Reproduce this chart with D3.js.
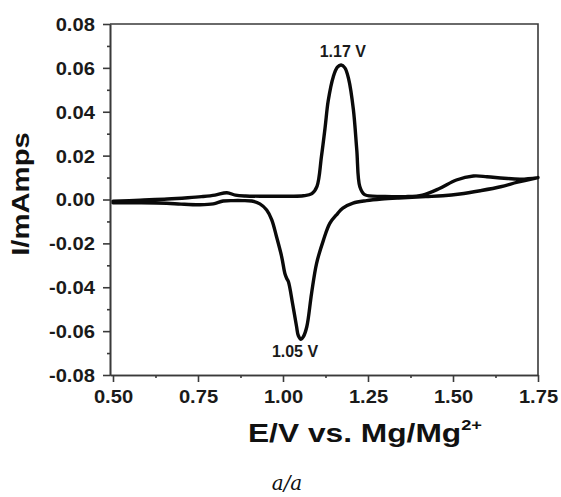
<!DOCTYPE html>
<html>
<head>
<meta charset="utf-8">
<script src="https://cdn.jsdelivr.net/npm/d3@7"></script>
<style>
  body { margin: 0; background: #fff; }
  text { font-family: "Liberation Sans", Arial, sans-serif; }
</style>
</head>
<body>
<div id="chart"></div>
<script>
// forward (anodic) sweep, 0.50 -> 1.75 V
const fwdV = [0.50, 0.58, 0.66, 0.72, 0.76, 0.80, 0.835, 0.86, 0.89, 0.95, 1.02, 1.06, 1.085, 1.10, 1.113, 1.124, 1.133, 1.148, 1.16, 1.171, 1.182, 1.193, 1.207, 1.217, 1.226, 1.24, 1.30, 1.36, 1.41, 1.46, 1.51, 1.56, 1.60, 1.65, 1.70, 1.75];
const fwdI = [-0.0008, -0.0003, 0.0002, 0.0008, 0.0013, 0.0020, 0.0031, 0.0020, 0.0016, 0.0015, 0.0015, 0.0017, 0.0027, 0.0060, 0.0195, 0.0330, 0.0450, 0.0560, 0.0603, 0.0613, 0.0600, 0.0550, 0.0410, 0.0226, 0.0058, 0.0022, 0.0014, 0.0013, 0.0020, 0.0050, 0.0089, 0.0107, 0.0104, 0.0097, 0.0093, 0.0100];

// reverse (cathodic) sweep, 1.75 -> 0.50 V
const revV = [1.75, 1.69, 1.64, 1.58, 1.52, 1.47, 1.42, 1.34, 1.29, 1.246, 1.206, 1.176, 1.16, 1.138, 1.119, 1.099, 1.084, 1.07, 1.06, 1.053, 1.045, 1.04, 1.028, 1.016, 1.011, 1.006, 0.996, 0.981, 0.967, 0.952, 0.932, 0.908, 0.88, 0.854, 0.824, 0.795, 0.756, 0.70, 0.658, 0.58, 0.50];
const revI = [0.0100, 0.0079, 0.0058, 0.0040, 0.0025, 0.0017, 0.0013, 0.0007, 0.0002, -0.0005, -0.0016, -0.0039, -0.0065, -0.0108, -0.0185, -0.0290, -0.0428, -0.0580, -0.0625, -0.0637, -0.0620, -0.0580, -0.0473, -0.0375, -0.0360, -0.0340, -0.0260, -0.0170, -0.0093, -0.0048, -0.0020, -0.0007, -0.0005, -0.0005, -0.0007, -0.0020, -0.0024, -0.0021, -0.0017, -0.0015, -0.0015];

const xTicks = [0.50, 0.75, 1.00, 1.25, 1.50, 1.75];
const yTicks = [0.08, 0.06, 0.04, 0.02, 0.00, -0.02, -0.04, -0.06, -0.08];

const peakV = [1.17, 1.053];
const peakI = [0.0613, -0.0637];
const peakLabels = ["1.17 V", "1.05 V"];

const W = 561, H = 497;
const svg = d3.select("#chart").append("svg")
    .attr("width", W)
    .attr("height", H);

const x = d3.scaleLinear().domain([0.4912, 1.75]).range([110, 538]);
const y = d3.scaleLinear().domain([-0.08, 0.08]).range([375, 24]);

const axisColor = "#3a3a3a";

// minor ticks halfway between majors
const xMinor = d3.pairs(xTicks).map(p => (p[0] + p[1]) / 2);
const yMinor = d3.pairs(yTicks).map(p => (p[0] + p[1]) / 2);

function styleAxis(g) {
  g.selectAll("path, line").attr("stroke", axisColor).attr("stroke-width", 1.6);
}

// x axis
svg.append("g")
    .attr("transform", `translate(0,${y.range()[0]})`)
    .call(d3.axisBottom(x).tickValues(xMinor).tickSize(3).tickSizeOuter(0).tickFormat(""))
    .call(styleAxis);
const gx = svg.append("g")
    .attr("transform", `translate(0,${y.range()[0]})`)
    .call(d3.axisBottom(x).tickValues(xTicks).tickSize(7).tickSizeOuter(0).tickFormat(d => d.toFixed(2)))
    .call(styleAxis);
gx.selectAll("text")
    .attr("y", 28).attr("dy", null)
    .attr("transform", "scale(1.12,1)")
    .style("font-size", "18px").style("font-weight", "bold").attr("fill", "#1a1a1a");

// y axis
svg.append("g")
    .attr("transform", `translate(${x.range()[0]},0)`)
    .call(d3.axisLeft(y).tickValues(yMinor).tickSize(3).tickSizeOuter(0).tickFormat(""))
    .call(styleAxis);
const gy = svg.append("g")
    .attr("transform", `translate(${x.range()[0]},0)`)
    .call(d3.axisLeft(y).tickValues(yTicks).tickSize(7).tickSizeOuter(0).tickFormat(d => d.toFixed(2)))
    .call(styleAxis);
gy.selectAll("text")
    .attr("x", -13.5).attr("dy", "0.36em")
    .attr("transform", "scale(1.12,1)")
    .style("font-size", "18px").style("font-weight", "bold").attr("fill", "#1a1a1a");

// top and right frame
svg.append("path")
    .attr("d", `M${x.range()[0]},${y.range()[1]}H${x.range()[1]}V${y.range()[0]}`)
    .attr("fill", "none")
    .attr("stroke", axisColor)
    .attr("stroke-width", 1.6);

// CV loop
const pts = fwdV.map((v, i) => [v, fwdI[i]])
    .concat(revV.map((v, i) => [v, revI[i]]));

const line = d3.line()
    .x(d => x(d[0]))
    .y(d => y(d[1]))
    .curve(d3.curveCatmullRom.alpha(0.5));

svg.append("path")
    .datum(pts)
    .attr("d", line)
    .attr("fill", "none")
    .attr("stroke", "#0a0a0a")
    .attr("stroke-width", 3.4)
    .attr("stroke-linejoin", "round")
    .attr("stroke-linecap", "round");

// peak annotations
svg.selectAll(".peak")
  .data(peakLabels)
  .join("text")
    .attr("class", "peak")
    .attr("x", (d, i) => x(peakV[i]) + (i == 0 ? 2 : -6))
    .attr("y", (d, i) => y(peakI[i]) + (i == 0 ? -8 : 18))
    .attr("text-anchor", "middle")
    .style("font-size", "16px")
    .style("font-weight", "bold")
    .attr("fill", "#1a1a1a")
    .text(d => d);

// axis titles
svg.append("text")
    .attr("transform", "translate(29,194) rotate(-90) scale(1.22,1)")
    .attr("text-anchor", "middle")
    .style("font-size", "24px")
    .style("font-weight", "bold")
    .attr("fill", "#111")
    .text("I/mAmps");

const xl = svg.append("text")
    .attr("transform", "translate(365,442) scale(1.22,1)")
    .attr("text-anchor", "middle")
    .style("font-size", "26px")
    .style("font-weight", "bold")
    .attr("fill", "#111");
xl.append("tspan").text("E/V vs. Mg/Mg");
xl.append("tspan").attr("dy", -12).style("font-size", "15px").text("2+");

// caption
svg.append("text")
    .attr("x", 287)
    .attr("y", 490)
    .attr("text-anchor", "middle")
    .style("font-family", "'DejaVu Serif', serif")
    .style("font-style", "italic")
    .style("font-size", "20px")
    .attr("fill", "#111")
    .text("a/a");
</script>
</body>
</html>
